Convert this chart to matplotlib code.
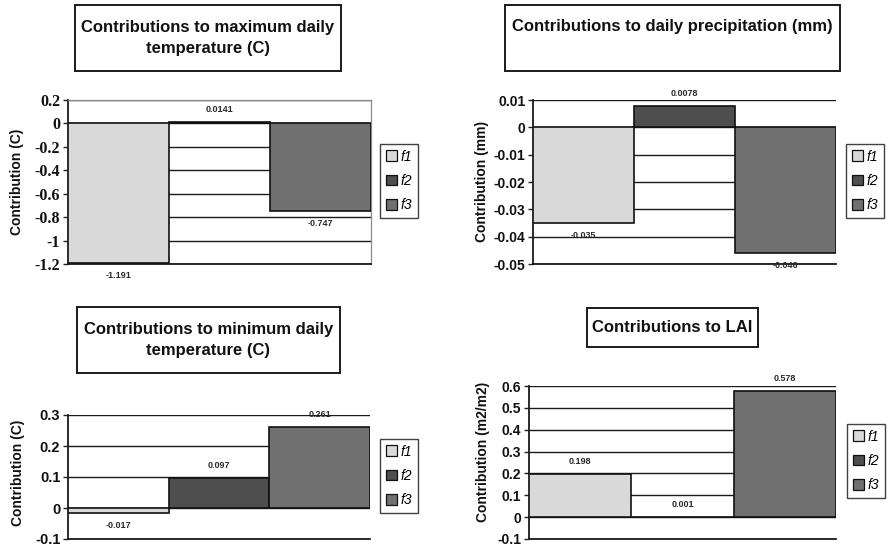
import matplotlib
matplotlib.use("Agg")
import matplotlib.pyplot as plt
from matplotlib.patches import Rectangle, Patch

W, H = 889, 548

# Series shared by all four panels
series = ["f1", "f2", "f3"]
series_colors = ["#d9d9d9", "#4e4e4e", "#707070"]

# Contributions of each factor
tmax_values = [-1.191, 0.0141, -0.747]
precip_values = [-0.035, 0.0078, -0.046]
tmin_values = [-0.017, 0.097, 0.261]
lai_values = [0.198, 0.001, 0.578]

# Value labels as printed on the bars
tmax_labels = ["-1.191", "0.0141", "-0.747"]
precip_labels = ["-0.035", "0.0078", "-0.046"]
tmin_labels = ["-0.017", "0.097", "0.261"]
lai_labels = ["0.198", "0.001", "0.578"]

# Y axes
tmax_ticks = [0.2, 0, -0.2, -0.4, -0.6, -0.8, -1.0, -1.2]
tmax_ticklabels = ["0.2", "0", "-0.2", "-0.4", "-0.6", "-0.8", "-1", "-1.2"]
precip_ticks = [0.01, 0, -0.01, -0.02, -0.03, -0.04, -0.05]
precip_ticklabels = ["0.01", "0", "-0.01", "-0.02", "-0.03", "-0.04", "-0.05"]
tmin_ticks = [0.3, 0.2, 0.1, 0, -0.1]
tmin_ticklabels = ["0.3", "0.2", "0.1", "0", "-0.1"]
lai_ticks = [0.6, 0.5, 0.4, 0.3, 0.2, 0.1, 0, -0.1]
lai_ticklabels = ["0.6", "0.5", "0.4", "0.3", "0.2", "0.1", "0", "-0.1"]

titles = [
    "Contributions to maximum daily\ntemperature (C)",
    "Contributions to daily precipitation (mm)",
    "Contributions to minimum daily\ntemperature (C)",
    "Contributions to LAI",
]
ylabels = ["Contribution (C)", "Contribution (mm)", "Contribution (C)",
           "Contribution (m2/m2)"]

SANS = "Liberation Sans"
SERIF = "Liberation Serif"

fig = plt.figure(figsize=(W / 100, H / 100), dpi=100)
fig.patch.set_facecolor("white")


def px_rect(x0, y0, x1, y1):
    return [x0 / W, 1 - y1 / H, (x1 - x0) / W, (y1 - y0) / H]


def title_box(x0, y0, x1, y1, text, ty):
    fig.patches.append(Rectangle((x0 / W, 1 - y1 / H), (x1 - x0) / W, (y1 - y0) / H,
                                 transform=fig.transFigure, facecolor="white",
                                 edgecolor="#1a1a1a", linewidth=1.4, zorder=1))
    fig.text((x0 + x1) / 2 / W, 1 - ty / H, text, ha="center", va="center",
             fontsize=12, fontweight="bold", family=SANS, linespacing=1.5,
             color="#111111")


def panel(rect, values, labels, ticks, ticklabels, ylabel, legend_xy, ylabel_xy,
          tick_family=SANS, tick_size=10, framed=False):
    x0, y0, x1, y1 = rect
    ax = fig.add_axes(px_rect(*rect))
    ax.set_xlim(-0.5, 2.5)
    ax.set_ylim(min(ticks), max(ticks))
    ax.set_yticks(ticks)
    ax.set_yticklabels(ticklabels, fontsize=tick_size, fontweight="bold",
                       family=tick_family, color="#111111")
    ax.tick_params(axis="y", length=3.5, width=1, color="#222222", pad=2)
    ax.set_xticks([])
    for t in ticks:
        ax.axhline(t, color="#1a1a1a", linewidth=1.0, zorder=1)
    for spine in ("top", "right"):
        ax.spines[spine].set_visible(framed)
        ax.spines[spine].set_color("#8a8a8a")
        ax.spines[spine].set_linewidth(0.9)
    for spine in ("left", "bottom"):
        ax.spines[spine].set_linewidth(1.3)
        ax.spines[spine].set_color("#1a1a1a")

    handles = []
    for i, (name, v, c, lab) in enumerate(zip(series, values, series_colors, labels)):
        ax.bar(i, v, width=1.0, color=c, edgecolor="#111111", linewidth=1.2,
               zorder=3, label=name)
        handles.append(Patch(facecolor=c, edgecolor="#111111", linewidth=0.9))
        off = 9 if v >= 0 else -9
        ax.annotate(lab, (i, v), xytext=(0, off), textcoords="offset points",
                    ha="center", va="center", fontsize=6.5, fontweight="bold",
                    family=SANS, color="#2a2a2a", zorder=5)

    ax.set_ylabel(ylabel, fontsize=10, fontweight="bold", family=SANS,
                  color="#111111")
    ax.yaxis.set_label_coords((ylabel_xy[0] - x0) / (x1 - x0),
                              (y1 - ylabel_xy[1]) / (y1 - y0))

    leg = ax.legend(handles, series, loc="center left",
                    bbox_to_anchor=(legend_xy[0] / W, 1 - legend_xy[1] / H),
                    bbox_transform=fig.transFigure, frameon=True, fancybox=False,
                    prop={"family": SANS, "style": "italic", "size": 10},
                    handlelength=0.8, handleheight=0.8, handletextpad=0.3,
                    borderpad=0.4, labelspacing=0.75, borderaxespad=0)
    leg.get_frame().set_edgecolor("#111111")
    leg.get_frame().set_linewidth(1.0)
    return ax


# Maximum temperature
title_box(75, 5, 341, 71, titles[0], 38)
panel((68, 100, 371, 264), tmax_values, tmax_labels, tmax_ticks, tmax_ticklabels,
      ylabels[0], (380, 181), (24, 182), tick_family=SERIF, tick_size=11.5,
      framed=True)

# Precipitation
title_box(505, 5, 840, 71, titles[1], 27)
panel((533, 100, 836, 264), precip_values, precip_labels, precip_ticks,
      precip_ticklabels, ylabels[1], (846, 181), (489, 181))

# Minimum temperature
title_box(77, 307, 340, 373, titles[2], 340)
panel((68, 415, 370, 539), tmin_values, tmin_labels, tmin_ticks, tmin_ticklabels,
      ylabels[2], (380, 476), (25, 473), tick_size=10.5)

# LAI
title_box(587, 308, 758, 347, titles[3], 328)
panel((529, 386, 836, 539), lai_values, lai_labels, lai_ticks, lai_ticklabels,
      ylabels[3], (847, 461), (490, 452))

fig.savefig("out.png", dpi=100, facecolor="white")
